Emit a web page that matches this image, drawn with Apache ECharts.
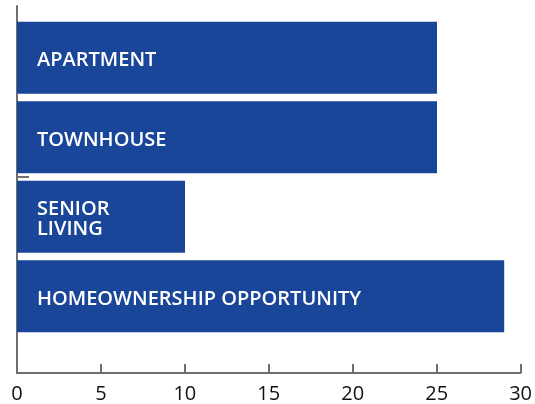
<!DOCTYPE html>
<html>
<head>
<meta charset="utf-8">
<script src="https://cdn.jsdelivr.net/npm/echarts@6/dist/echarts.min.js"></script>
<style>html,body{margin:0;padding:0;background:#fff}#c{width:535px;height:404px}</style>
</head>
<body>
<div id="c"></div>
<script>
const categories = ['Apartment', 'Townhouse', 'Senior Living', 'Homeownership Opportunity'];
const barLabels = ['APARTMENT', 'TOWNHOUSE', 'SENIOR\nLIVING', 'HOMEOWNERSHIP OPPORTUNITY'];
const values = [25, 25, 10, 29];
const xTicks = [0, 5, 10, 15, 20, 25, 30];

const axisGray = '#6f6f6f';
const barTop = 18, bandH = 79.5;
const chart = echarts.init(document.getElementById('c'), null, {renderer: 'canvas'});
chart.setOption({
  animation: false,
  grid: [
    {left: 17, right: 14, top: 6, bottom: 31},
    {left: 17, right: 14, top: barTop, height: bandH * categories.length},
    {left: 17, right: 14, top: barTop + 2 * bandH, bottom: 31}
  ],
  xAxis: [
    {
      gridIndex: 0, type: 'value', min: xTicks[0], max: xTicks[xTicks.length - 1], interval: 5,
      axisLine: {show: true, lineStyle: {color: axisGray, width: 2}},
      axisTick: {show: true, inside: true, length: 9, lineStyle: {color: axisGray, width: 2}},
      axisLabel: {color: '#111', fontSize: 20, margin: 11, fontFamily: 'Open Sans'},
      splitLine: {show: false}
    },
    {gridIndex: 1, type: 'value', min: xTicks[0], max: xTicks[xTicks.length - 1], show: false},
    {gridIndex: 2, type: 'value', min: 0, max: 1, show: false}
  ],
  yAxis: [
    {
      gridIndex: 0, type: 'value', min: 0, max: 1,
      axisLine: {show: true, lineStyle: {color: axisGray, width: 2}},
      axisTick: {show: false}, axisLabel: {show: false}, splitLine: {show: false}
    },
    {
      gridIndex: 1, type: 'category', data: categories, inverse: true,
      axisLine: {show: false}, axisTick: {show: false},
      axisLabel: {show: false}, splitLine: {show: false}
    },
    {
      gridIndex: 2, type: 'value', min: 0, max: 1, interval: 1,
      axisLine: {show: false},
      axisTick: {show: true, inside: true, length: 12, lineStyle: {color: axisGray, width: 2}},
      axisLabel: {show: false}, splitLine: {show: false}
    }
  ],
  series: [{
    type: 'bar',
    xAxisIndex: 1, yAxisIndex: 1,
    data: values,
    barWidth: 72,
    itemStyle: {color: '#1a4699'},
    label: {
      show: true, position: 'insideLeft', distance: 20, offset: [0, 3],
      formatter: (p) => barLabels[p.dataIndex],
      color: '#fff', fontSize: 20, fontWeight: 600, fontFamily: 'Open Sans', lineHeight: 20
    }
  }]
});
</script>
</body>
</html>
